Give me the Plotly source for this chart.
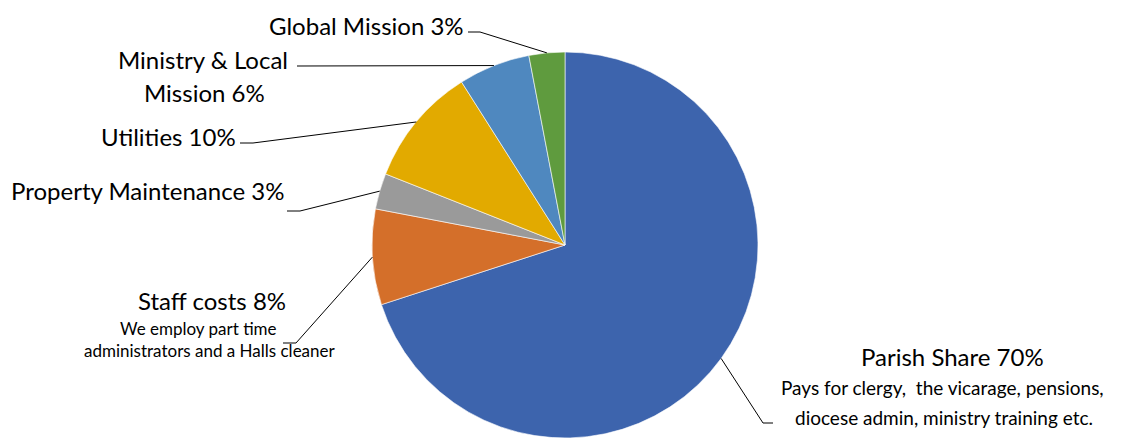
import math
import plotly.graph_objects as go

# ---- data ----
categories = ["Parish Share", "Staff costs", "Property Maintenance", "Utilities",
              "Ministry & Local Mission", "Global Mission"]
values = [70, 8, 3, 10, 6, 3]
colors = ["#3D64AD", "#D46F2A", "#9A9A9A", "#E2AA00", "#4F88BF", "#5F9B3E"]
label_lines = [
    ["Parish Share 70%"],
    ["Staff costs 8%"],
    ["Property Maintenance 3%"],
    ["Utilities 10%"],
    ["Ministry & Local", "Mission 6%"],
    ["Global Mission 3%"],
]
notes = [
    ["Pays for clergy,  the vicarage, pensions,", "diocese admin, ministry training etc."],
    ["We employ part time", "administrators and a Halls cleaner"],
    [], [], [], [],
]

W, H = 1128, 439
CX, CY, R = 565, 245, 193

def px(x):
    return x / W

def py(y):
    return 1 - y / H

fig = go.Figure(go.Pie(
    labels=categories, values=values, sort=False, direction="clockwise", rotation=0,
    marker=dict(colors=colors, line=dict(color="white", width=0.6)),
    textinfo="none", hoverinfo="label+percent", showlegend=False,
    domain=dict(x=[px(CX - R), px(CX + R)], y=[py(CY + R), py(CY - R)]),
))

# leader-line anchors on the rim, computed from the data
total = sum(values)
mids = []
acc = 0
for v in values:
    a = (acc + v / 2) / total * 2 * math.pi
    mids.append((CX + R * math.sin(a), CY - R * math.cos(a)))
    acc += v

# label layout: (elbow-end x, elbow y, elbow-start x) per slice
elbows = [
    (773, 423, 763),   # Parish
    (283, 343, 296),   # Staff
    (287, 211, 300),   # Property
    (240, 143, 253),   # Utilities
    (297, 66, 297),    # Ministry
    (468, 32, 480),    # Global
]

shapes = []
for (mx, my), (ex, ey, sx) in zip(mids, elbows):
    path = f"M {px(ex)} {py(ey)} L {px(sx)} {py(ey)} L {px(mx)} {py(my)}"
    shapes.append(dict(type="path", xref="paper", yref="paper", path=path,
                       line=dict(color="black", width=1)))

FONT = "Lato, 'Open Sans', sans-serif"
annots = []

def add(text, x, y, size, xanchor="center"):
    annots.append(dict(text=text, x=px(x), y=py(y), xref="paper", yref="paper",
                       xanchor=xanchor, yanchor="middle", showarrow=False,
                       font=dict(family=FONT, size=size, color="#000000")))

# main labels
add(label_lines[5][0], 366, 25, 24)
add(label_lines[4][0], 203, 60, 24)
add(label_lines[4][1], 204, 92, 24)
add(label_lines[3][0], 168, 136, 24)
add(label_lines[2][0], 147, 190, 24)
add(label_lines[1][0], 212, 300, 24)
add(notes[1][0], 198, 328, 17)
add(notes[1][1], 210, 350, 17)
add(label_lines[0][0], 952, 356, 24)
add(notes[0][0], 942, 387, 19)
add(notes[0][1], 944, 417, 19)

fig.update_layout(
    width=W, height=H, margin=dict(l=0, r=0, t=0, b=0),
    paper_bgcolor="white", plot_bgcolor="white",
    shapes=shapes, annotations=annots,
)

fig.write_html("out.html", config={"displayModeBar": False},
               post_script="document.body.style.margin='0';")
